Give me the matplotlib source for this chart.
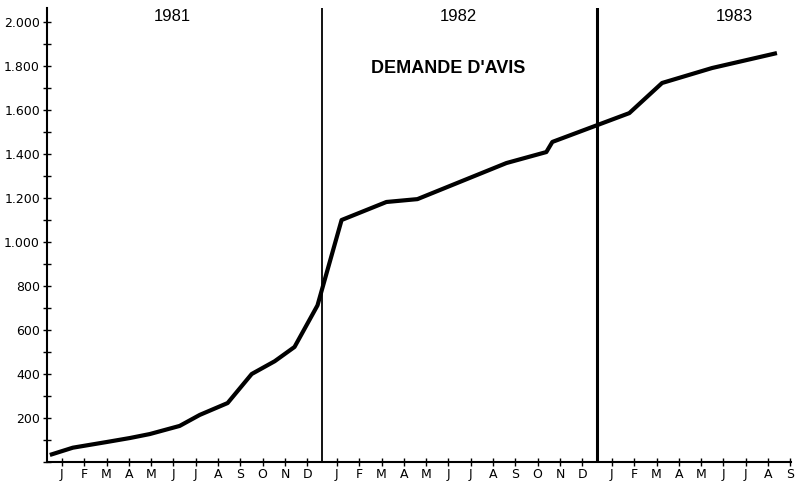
import matplotlib.pyplot as plt
from matplotlib.ticker import FuncFormatter, MultipleLocator

# ecart entre deux annees sur l'axe (en mois)
year_step = 12.33

years = ['1981', '1982', '1983']
months = ['J', 'F', 'M', 'A', 'M', 'J', 'J', 'A', 'S', 'O', 'N', 'D']
months_1983 = months[:9]

# points de la courbe : annee (indice), position dans l'annee (mois, J = 0), valeur
pt_year = [0, 0, 0, 0, 0, 0, 0, 0, 0, 0, 0, 0,
           1, 1, 1, 1, 1, 1,
           2, 2, 2, 2]
pt_month = [-0.54, 0.49, 2.02, 3.05, 3.94, 5.28, 6.18, 7.43, 8.51, 9.54, 10.43, 11.46,
            0.21, 2.22, 3.61, 7.60, 9.39, 9.66,
            0.78, 2.25, 4.49, 7.40]
pt_value = [32, 65, 91, 109, 127, 164, 214, 268, 400, 458, 523, 712,
            1100, 1182, 1195, 1359, 1409, 1455,
            1586, 1723, 1791, 1859]


def pos(year_idx, month):
    return year_idx * year_step + month


x = [pos(a, m) for a, m in zip(pt_year, pt_month)]

fig = plt.figure(figsize=(7.96, 4.83), dpi=100)
ax = fig.add_axes([0.059, 0.0435, 0.935, 0.94])

ax.plot(x, pt_value, color='black', lw=3.0, solid_joinstyle='round', solid_capstyle='butt')

# separations entre annees
ax.axvline(pos(0, 11.65), color='black', lw=1.3)
ax.axvline(pos(1, 11.65), color='black', lw=2.2)

ax.text(pos(0, 4.93), 2023, years[0], ha='center', va='center', fontsize=12, family='Liberation Sans')
ax.text(pos(1, 5.45), 2023, years[1], ha='center', va='center', fontsize=12, family='Liberation Sans')
ax.text(pos(2, 5.48), 2023, years[2], ha='center', va='center', fontsize=12, family='Liberation Sans')
ax.text(pos(1, 5.0), 1791, "DEMANDE D'AVIS", ha='center', va='center', fontsize=13,
        fontweight='bold', family='Liberation Sans')

ax.set_xlim(-0.67, 32.7)
ax.set_ylim(0, 2064)

xt = [pos(0, i) for i in range(12)] + [pos(1, i) for i in range(12)] + [pos(2, i) for i in range(9)]
ax.set_xticks(xt)
ax.set_xticklabels(months + months + months_1983)

ax.set_yticks(range(200, 2001, 200))
ax.yaxis.set_minor_locator(MultipleLocator(100))
ax.yaxis.set_major_formatter(FuncFormatter(lambda v, p: f'{int(v):,}'.replace(',', '.')))

for s in ['top', 'right']:
    ax.spines[s].set_visible(False)
ax.spines['left'].set_linewidth(1.5)
ax.spines['bottom'].set_linewidth(1.5)

ax.tick_params(axis='both', which='both', direction='inout', length=6, width=1, labelsize=9)
ax.tick_params(axis='x', pad=1)
ax.tick_params(axis='y', pad=2)

fig.savefig('out.png', dpi=100)
